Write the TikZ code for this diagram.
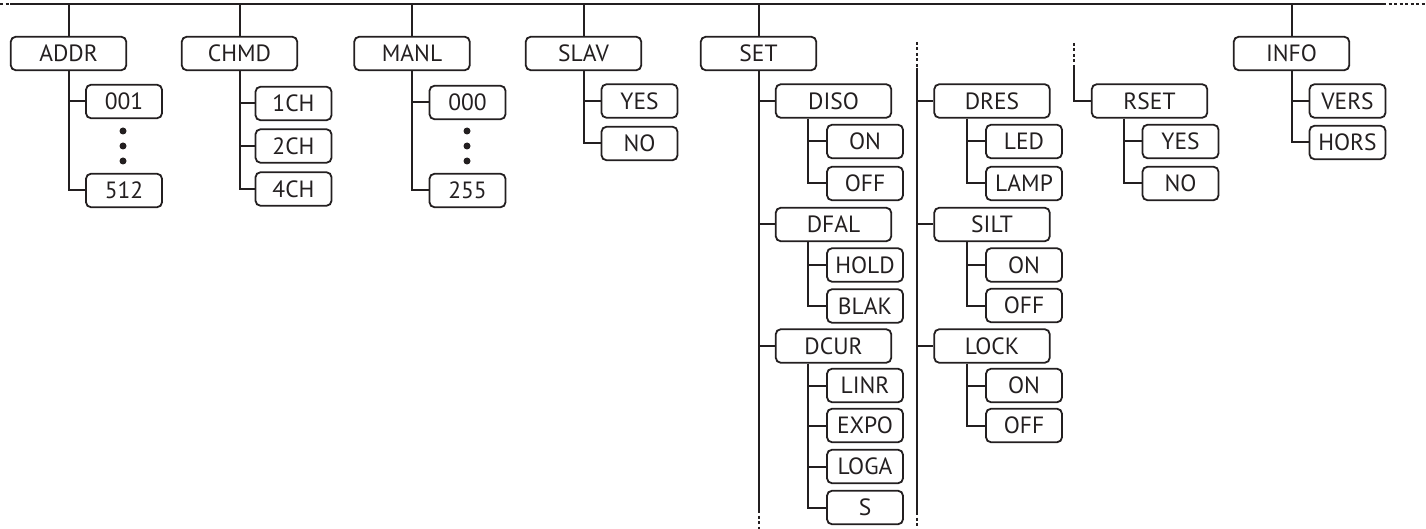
\documentclass[tikz,border=0pt]{standalone}
\usepackage{fontspec}
\setmainfont{PT Sans}
\usetikzlibrary{calc}
\definecolor{ink}{HTML}{231F20}
\begin{document}
\begin{tikzpicture}[x=1pt,y=-1pt,
  line/.style={draw=ink,line width=2pt},
  dashline/.style={draw=ink,line width=2pt,dash pattern=on 3pt off 2.5pt},
  box/.style={draw=ink,line width=1.8pt,rounded corners=5pt,inner sep=0pt,
    minimum height=33.5pt,font=\fontsize{23.5}{26}\selectfont,text=ink},
  wide/.style={box,minimum width=115.5pt},
  small/.style={box,minimum width=76pt},
  dot/.style={circle,fill=ink,inner sep=0pt,minimum size=7pt}]
\useasboundingbox (0,0) rectangle (1426,529);
% top line
\coordinate (L0) at (0,4);
\coordinate (L1) at (10,4);
\coordinate (L2) at (1383,4);
\coordinate (L3) at (1426,4);
\draw[dashline] (L0) -- (L1);
\draw[line] (L1) -- (L2);
\draw[dashline] (L2) -- (L3);
% top level
\node[wide] (ADDR) at (68.5,53.5) {ADDR};
\node[wide] (CHMD) at (239.5,53.5) {CHMD};
\node[wide] (MANL) at (412,53.5) {MANL};
\node[wide] (SLAV) at (583.5,53.5) {SLAV};
\node[wide] (SET) at (758.5,53.5) {SET};
\node[wide] (INFO) at (1291.5,53.5) {INFO};
\foreach \n in {ADDR,CHMD,MANL,SLAV,SET,INFO}
  \draw[line] (\n.north) -- (\n.north |- L1);
% ADDR
\node[small] (a001) at (124,101.5) {001};
\node[small] (a512) at (124,190.5) {512};
\node[dot] (ad1) at (123,131) {};
\node[dot] (ad2) at (123,146) {};
\node[dot] (ad3) at (123,161) {};
\draw[line] (ADDR.south) |- (a001.west);
\draw[line] (ADDR.south) |- (a512.west);
% CHMD
\node[small] (c1) at (293.5,103.5) {1CH};
\node[small] (c2) at (293.5,146) {2CH};
\node[small] (c4) at (293.5,189) {4CH};
\foreach \c in {c1,c2,c4} \draw[line] (CHMD.south) |- (\c.west);
% MANL
\node[small] (m000) at (467.5,102.5) {000};
\node[small] (m255) at (467.5,190.5) {255};
\node[dot] (md1) at (467,131) {};
\node[dot] (md2) at (467,146) {};
\node[dot] (md3) at (467,161) {};
\draw[line] (MANL.south) |- (m000.west);
\draw[line] (MANL.south) |- (m255.west);
% SLAV
\node[small] (sy) at (639.5,101) {YES};
\node[small] (sn) at (639.5,143.5) {NO};
\draw[line] (SLAV.south) |- (sy.west);
\draw[line] (SLAV.south) |- (sn.west);
% SET
\coordinate (setEnd) at (758.5,510);
\coordinate (setBot) at (758.5,529);
\draw[line] (SET.south) -- (setEnd);
\draw[dashline] (setEnd) -- (setBot);
\node[wide] (DISO) at (833.5,101) {DISO};
\node[wide] (DFAL) at (833.5,224.5) {DFAL};
\node[wide] (DCUR) at (833.5,346) {DCUR};
\foreach \n in {DISO,DFAL,DCUR} \draw[line] (SET.south) |- (\n.west);
\node[small] (don) at (865,141.5) {ON};
\node[small] (doff) at (865,183.5) {OFF};
\node[small] (fhold) at (865,265) {HOLD};
\node[small] (fblak) at (865,306) {BLAK};
\node[small] (clinr) at (865,385.5) {LINR};
\node[small] (cexpo) at (865,425.5) {EXPO};
\node[small] (cloga) at (865,466.5) {LOGA};
\node[small] (cs) at (865,507.5) {S};
\foreach \c in {don,doff} \draw[line] ($(DISO.south west)+(33,0)$) |- (\c.west);
\foreach \c in {fhold,fblak} \draw[line] ($(DFAL.south west)+(33,0)$) |- (\c.west);
\foreach \c in {clinr,cexpo,cloga,cs} \draw[line] ($(DCUR.south west)+(33,0)$) |- (\c.west);
% separator
\coordinate (sepT) at (917,42);
\coordinate (sepM) at (917,68);
\coordinate (sepE) at (917,512);
\coordinate (sepB) at (917,529);
\draw[dashline] (sepT) -- (sepM);
\draw[line] (sepM) -- (sepE);
\draw[dashline] (sepE) -- (sepB);
\node[wide] (DRES) at (992,101) {DRES};
\node[wide] (SILT) at (992,224.5) {SILT};
\node[wide] (LOCK) at (992,346) {LOCK};
\foreach \n in {DRES,SILT,LOCK} \draw[line] (sepM) |- (\n.west);
\node[small] (rled) at (1024,141.5) {LED};
\node[small] (rlamp) at (1024,183.5) {LAMP};
\node[small] (son) at (1024,265) {ON};
\node[small] (soff) at (1024,305.5) {OFF};
\node[small] (lon) at (1024,385.5) {ON};
\node[small] (loff) at (1024,425.5) {OFF};
\foreach \c in {rled,rlamp} \draw[line] ($(DRES.south west)+(33.5,0)$) |- (\c.west);
\foreach \c in {son,soff} \draw[line] ($(SILT.south west)+(33.5,0)$) |- (\c.west);
\foreach \c in {lon,loff} \draw[line] ($(LOCK.south west)+(33.5,0)$) |- (\c.west);
% RSET
\coordinate (rsT) at (1074,43);
\coordinate (rsM) at (1074,67);
\draw[dashline] (rsT) -- (rsM);
\node[wide] (RSET) at (1149.5,101) {RSET};
\draw[line] (rsM) |- (RSET.west);
\node[small] (ry) at (1180.5,141.5) {YES};
\node[small] (rn) at (1180.5,183.5) {NO};
\foreach \c in {ry,rn} \draw[line] ($(RSET.south west)+(33,0)$) |- (\c.west);
% INFO
\node[small] (iv) at (1347.5,101) {VERS};
\node[small] (ih) at (1347.5,142.5) {HORS};
\draw[line] (INFO.south) |- (iv.west);
\draw[line] (INFO.south) |- (ih.west);
\end{tikzpicture}
\end{document}
